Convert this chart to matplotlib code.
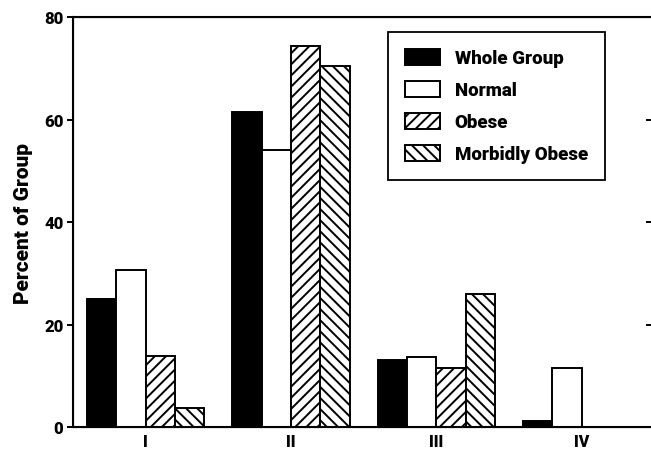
import numpy as np
import matplotlib.pyplot as plt

plt.rcParams['font.family'] = ['Roboto', 'Liberation Sans', 'DejaVu Sans']
plt.rcParams['hatch.linewidth'] = 1.4

# stages on the x axis
stages = ['I', 'II', 'III', 'IV']

# percent of each group per stage
whole_group = [25.0, 61.4, 13.1, 1.1]
normal = [30.7, 54.0, 13.6, 11.6]
obese = [13.9, 74.4, 11.6, 0.0]
morbidly_obese = [3.8, 70.4, 26.0, 0.0]

series = ['Whole Group', 'Normal', 'Obese', 'Morbidly Obese']

heavy = 'black'

fig = plt.figure(figsize=(6.51, 4.52), dpi=100)
ax = fig.add_axes([73 / 651, 1 - 428 / 452, 580 / 651, 410 / 452])

x = np.arange(len(stages))
w = 0.202
styles = [dict(facecolor='black', hatch=None),
          dict(facecolor='white', hatch=None),
          dict(facecolor='white', hatch='///'),
          dict(facecolor='white', hatch='\\\\\\')]
data = [whole_group, normal, obese, morbidly_obese]

for i, (vals, st, name) in enumerate(zip(data, styles, series)):
    ax.bar(x + (i - 1.5) * w, vals, w, label=name, edgecolor='black',
           linewidth=1.4, facecolor=st['facecolor'], hatch=st['hatch'])

ax.set_xlim(-0.5, 3.49)
ax.set_ylim(0, 80)
ax.set_yticks([0, 20, 40, 60, 80])
ax.set_yticklabels(['0', '20', '40', '60', '80'], fontsize=12, fontweight=heavy)
ax.set_xticks(x)
ax.set_xticklabels(stages, fontsize=11.5, fontweight=heavy)
ax.tick_params(axis='x', length=0, pad=4)
ax.tick_params(axis='y', direction='out', length=4, width=1.4, pad=3)
for sp in ax.spines.values():
    sp.set_linewidth(1.5)

# small inward ticks on the right edge
ax2 = ax.twinx()
ax2.set_ylim(0, 80)
ax2.set_yticks([20, 40, 60])
ax2.tick_params(axis='y', direction='in', length=5, width=1.4, labelright=False)
ax2.spines['right'].set_visible(False)

ax.set_ylabel('Percent of Group', fontsize=15, fontweight=heavy, labelpad=8)

leg = ax.legend(loc='upper left', bbox_to_anchor=(388 / 651, 1 - 33 / 452),
                bbox_transform=fig.transFigure, borderaxespad=0, fancybox=False,
                framealpha=1, edgecolor='black',
                prop={'size': 13.5, 'weight': heavy},
                handlelength=1.85, handleheight=0.95, labelspacing=0.72,
                handletextpad=0.8, borderpad=0.9)
leg.get_frame().set_linewidth(1.3)
leg.set_zorder(5)

fig.savefig('out.png', dpi=100)
